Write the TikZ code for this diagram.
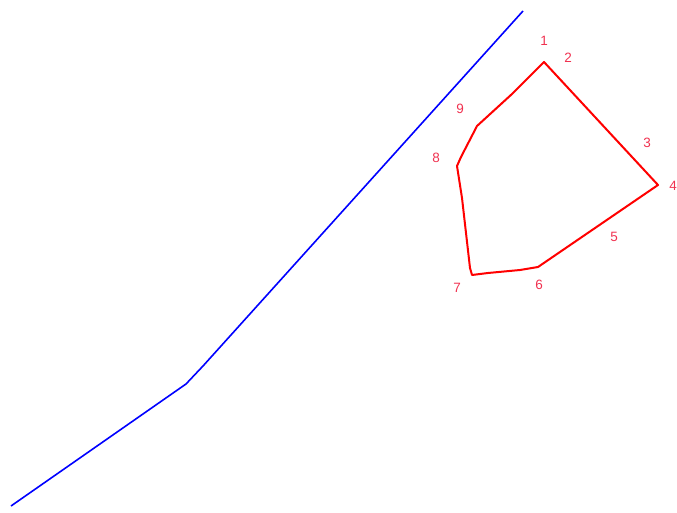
\documentclass[tikz,border=0pt]{standalone}
\usepackage{fontspec}
\setmainfont{Liberation Sans}
\definecolor{lblred}{RGB}{240,50,80}
\definecolor{polyred}{RGB}{255,0,0}
\definecolor{lineblue}{RGB}{0,0,255}
\begin{document}
\begin{tikzpicture}[x=1pt,y=-1pt,
  lbl/.style={text=lblred,font=\fontsize{13.5}{13.5}\selectfont,inner sep=0pt},
  bluepath/.style={draw=lineblue,line width=1.6pt},
  redpath/.style={draw=polyred,line width=2pt,line join=round}]
\useasboundingbox (0,0) rectangle (677,513);
% blue line
\coordinate (b0) at (11,506);
\coordinate (b1) at (186,384);
\coordinate (b2) at (203,366);
\coordinate (b3) at (523,11);
\draw[bluepath] (b0) -- (b1) -- (b2) -- (b3);
% polygon
\coordinate (p1) at (544,62);
\coordinate (p4) at (658,185);
\coordinate (p6) at (538,267);
\coordinate (p6b) at (520,270);
\coordinate (p7b) at (488,273);
\coordinate (p7) at (472,275);
\coordinate (p7a) at (470,268);
\coordinate (p8b) at (462,198);
\coordinate (p8) at (457,166);
\coordinate (p8a) at (461,157);
\coordinate (p9) at (477,126);
\coordinate (p9a) at (512,94);
\draw[redpath] (p1) -- (p4) -- (p6) -- (p6b) -- (p7b) -- (p7) -- (p7a) -- (p8b) -- (p8) -- (p8a) -- (p9) -- (p9a) -- cycle;
% labels
\node[lbl] (l1) at (544,41) {1};
\node[lbl] (l2) at (568,58) {2};
\node[lbl] (l3) at (647,143) {3};
\node[lbl] (l4) at (673,186) {4};
\node[lbl] (l5) at (614,237) {5};
\node[lbl] (l6) at (539,285) {6};
\node[lbl] (l7) at (457,288) {7};
\node[lbl] (l8) at (436,158) {8};
\node[lbl] (l9) at (460,109) {9};
\end{tikzpicture}
\end{document}
